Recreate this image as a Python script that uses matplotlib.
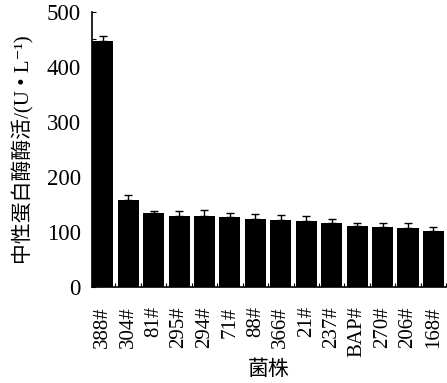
import matplotlib.pyplot as plt
import numpy as np

plt.rcParams['font.family'] = ['Liberation Serif', 'Noto Sans CJK SC', 'DejaVu Serif']

# strain names, enzyme activity and error (U/L)
strains = ['388#', '304#', '81#', '295#', '294#', '71#', '88#', '366#',
           '21#', '237#', 'BAP#', '270#', '206#', '168#']
activity = [447, 158, 134, 129, 128, 127, 124, 121, 120, 116, 110, 108, 107, 102]
errors = [10, 9, 4, 9, 11, 8, 9, 9, 9, 7, 6, 8, 9, 7]


def main():
    fig = plt.figure(figsize=(4.47, 3.83), dpi=100)
    ax = fig.add_axes([0.206, 0.251, 0.792, 0.718])

    x = np.arange(len(strains))
    ax.bar(x, activity, width=0.83, color='black', zorder=2)
    ax.errorbar(x, activity, yerr=[np.zeros(len(errors)), errors], fmt='none',
                ecolor='black', elinewidth=1, capsize=3, capthick=1, zorder=1)

    ax.set_xlim(-0.42, 13.5)
    ax.set_ylim(0, 500)

    # all ticks inward; y every 50, labels only on hundreds
    ax.set_yticks(np.arange(0, 501, 50))
    ax.set_yticklabels([str(v) if v % 100 == 0 else '' for v in range(0, 501, 50)],
                       fontsize=16.5)
    ax.tick_params(axis='y', direction='in', length=3, width=0.8, pad=8)

    ax.set_xticks(x + 0.5, minor=True)
    ax.set_xticks(x)
    ax.set_xticklabels(strains, rotation=90, fontsize=15)
    ax.tick_params(axis='x', which='major', length=0, pad=14)
    ax.tick_params(axis='x', which='minor', direction='in', length=3, width=0.8)

    ax.spines['top'].set_visible(False)
    ax.spines['right'].set_visible(False)
    ax.spines['left'].set_linewidth(1.2)
    ax.spines['bottom'].set_linewidth(1.2)

    ax.set_ylabel('中性蛋白酶酶活/(U • L⁻¹)', fontsize=15, labelpad=9)
    ax.set_xlabel('菌株', fontsize=15, labelpad=2)

    fig.savefig('out.png', dpi=100)


if __name__ == '__main__':
    main()
